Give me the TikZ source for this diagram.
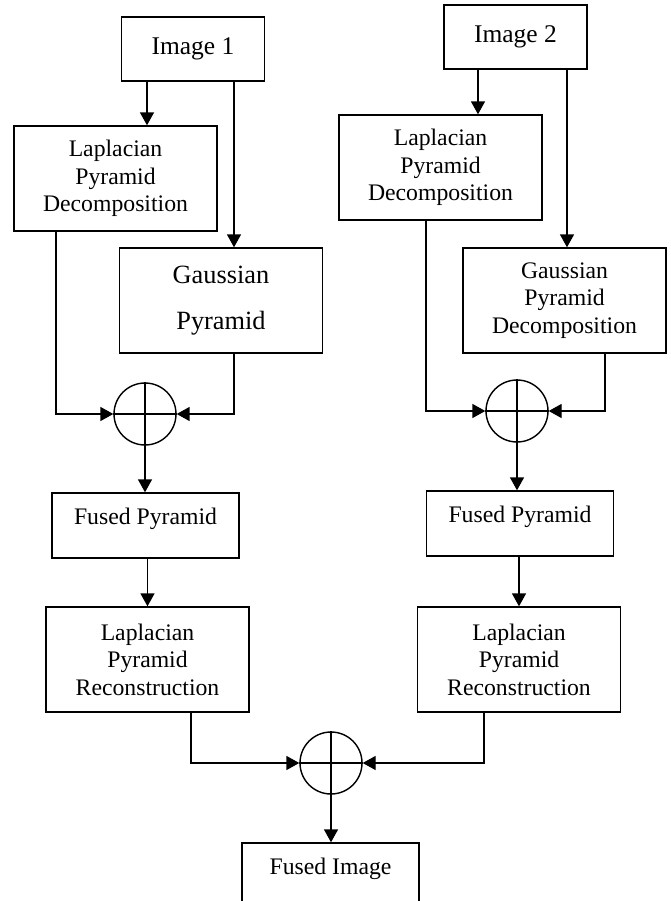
\documentclass[tikz,border=0pt]{standalone}
\usepackage{fontspec}
\setmainfont{Liberation Serif}
\usetikzlibrary{arrows.meta,positioning}
\tikzset{imgbox/.style={rectangle,draw=black,line width=0.8pt,minimum width=2.86cm,minimum height=1.28cm,font=\fontsize{14.5}{17}\selectfont},
  stage/.style={rectangle,draw=black,line width=0.8pt,minimum width=4.06cm,minimum height=2.1cm,align=center,font=\fontsize{13.5}{15.6}\selectfont},
  fusedbox/.style={rectangle,draw=black,line width=0.8pt,minimum width=3.74cm,minimum height=1.3cm,text depth=0.37cm,font=\fontsize{13.5}{15.6}\selectfont},
  adder/.style={circle,draw=black,line width=0.8pt,minimum size=1.24cm,inner sep=0pt},
  flow/.style={draw=black,line width=0.8pt,-{Triangle[length=7.4pt,width=8pt]}}}
\begin{document}
\begin{tikzpicture}[x=0.02cm,y=-0.02cm]
\useasboundingbox (0,0) rectangle (670,901);
\clip (0,0) rectangle (670,901);

\node[imgbox] (img1) at (193,49) {Image 1};
\node[imgbox] (img2) at (515.5,37) {Image 2};

\node[stage] (lapL) at (115.5,178.5) {Laplacian\\Pyramid\\Decomposition};
\node[stage,font=\fontsize{15}{26}\selectfont] (gauL) at (221,300.5) {Gaussian\\Pyramid};
\node[stage] (lapR) at (440.5,167.5) {Laplacian\\Pyramid\\Decomposition};
\node[stage] (gauR) at (564.5,300.5) {Gaussian\\Pyramid\\Decomposition};

\node[adder] (sumL) at (145,414) {};
\node[adder] (sumR) at (517,411) {};

\node[fusedbox] (fusL) at (145.5,525.5) {Fused Pyramid};
\node[fusedbox] (fusR) at (520,523.5) {Fused Pyramid};

\node[stage] (recL) at (147.5,659.5) {Laplacian\\Pyramid\\Reconstruction};
\node[stage] (recR) at (519,659.5) {Laplacian\\Pyramid\\Reconstruction};

\node[adder] (sumB) at (331,763) {};
\node[fusedbox,minimum width=3.54cm] (fimg) at (330.5,875.5) {Fused Image};

\foreach \s in {sumL,sumR,sumB}
  \draw[line width=0.8pt] (\s.north) -- (\s.south) (\s.west) -- (\s.east);

\draw[flow] (img1.south -| 147,0) -- (lapL.north -| 147,0);
\draw[flow] (img1.south -| 234,0) -- (gauL.north -| 234,0);
\draw[flow] (lapL.south -| 56,0) |- (sumL.west);
\draw[flow] (gauL.south -| 234,0) |- (sumL.east);
\draw[flow] (sumL.south) -- (fusL.north -| sumL.south);
\draw[flow] (fusL.south -| recL.north) -- (recL.north);
\draw[flow] (recL.south -| 191,0) |- (sumB.west);

\draw[flow] (img2.south -| 478,0) -- (lapR.north -| 478,0);
\draw[flow] (img2.south -| 567,0) -- (gauR.north -| 567,0);
\draw[flow] (lapR.south -| 426,0) |- (sumR.west);
\draw[flow] (gauR.south -| 605,0) |- (sumR.east);
\draw[flow] (sumR.south) -- (fusR.north -| sumR.south);
\draw[flow] (fusR.south -| recR.north) -- (recR.north);
\draw[flow] (recR.south -| 484,0) |- (sumB.east);
\draw[flow] (sumB.south) -- (fimg.north -| sumB.south);

\end{tikzpicture}
\end{document}
